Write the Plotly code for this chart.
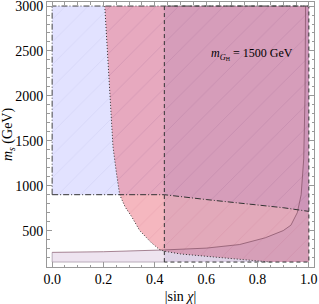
import plotly.graph_objects as go

# ---- data (x = |sin chi|, y = m_s in GeV) ----
# blue region: y above this lower boundary, x in [0,1], up to 3000
blue_low_x = [0.0, 0.437, 0.6, 0.8, 0.9, 1.0]
blue_low_y = [900, 900, 846, 789, 755, 714]
# pink region: right of this curve
pink_x = [0.205, 0.215, 0.225, 0.237, 0.25, 0.263, 0.285, 0.309, 0.341, 0.386, 0.418, 0.437, 0.5, 0.6, 0.728, 0.793, 0.85]
pink_y = [3000, 2500, 2000, 1435, 1150, 900, 760, 659, 500, 367, 289, 271, 240, 215, 178, 160, 150]
# grey region: |sin chi| >= 0.437
grey_x0 = 0.437
# lavender region: below this curve
lav_x = [0.0, 0.2, 0.437, 0.6, 0.73, 0.83, 0.9, 0.93, 0.955, 0.97, 0.98, 0.985, 0.987]
lav_y = [258, 265, 285, 305, 345, 420, 500, 560, 700, 900, 1300, 2000, 3000]
y_min, y_max = 150, 3000
x_min, x_max = 0.0, 1.0

x_ticks = [0.0, 0.2, 0.4, 0.6, 0.8, 1.0]
y_ticks = [500, 1000, 1500, 2000, 2500, 3000]

fig = go.Figure()

def poly(xs, ys, fill):
    fig.add_trace(go.Scatter(x=xs, y=ys, mode="lines", fill="toself", fillcolor=fill,
                             line=dict(width=0), hoverinfo="skip", showlegend=False))

def mesh(xs, ys, color):
    fig.add_trace(go.Scatter(x=xs, y=ys, mode="lines", fill="toself", fillcolor="rgba(0,0,0,0)",
                             fillpattern=dict(shape="/", bgcolor="rgba(0,0,0,0)", fgcolor=color,
                                              fgopacity=0.11, size=16, solidity=0.06),
                             line=dict(width=0), hoverinfo="skip", showlegend=False))

def edge(xs, ys, color, dash, width=1.0):
    fig.add_trace(go.Scatter(x=xs, y=ys, mode="lines",
                             line=dict(color=color, width=width, dash=dash),
                             hoverinfo="skip", showlegend=False))

# blue
bx = [x_min, x_min, x_max] + blue_low_x[::-1]
by = [blue_low_y[0], y_max, y_max] + blue_low_y[::-1]
poly(bx, by, "rgba(175,175,255,0.36)")
# pink
px = pink_x + [x_max, x_max]
py = pink_y + [y_min, y_max]
poly(px, py, "rgba(236,112,128,0.50)")
# grey
poly([grey_x0, x_max, x_max, grey_x0], [y_min, y_min, y_max, y_max], "rgba(90,70,160,0.12)")
# lavender
lx = [x_min] + lav_x + [x_max, x_max]
ly = [y_min] + lav_y + [y_max, y_min]
poly(lx, ly, "rgba(170,120,180,0.20)")
# faint mesh lines
mesh(bx, by, "#8080c0")
mesh(px, py, "#b04060")

# boundaries
edge(lav_x, lav_y, "rgba(120,70,90,0.8)", "solid", 0.8)
edge([lav_x[0], x_min, grey_x0], [lav_y[0], y_min, y_min], "rgba(120,100,120,0.6)", "solid", 0.8)
edge([grey_x0, grey_x0, x_max, x_max, grey_x0], [y_min, y_max, y_max, y_min, y_min], "#333", "4px,3px", 1.0)
edge(pink_x, pink_y, "#333", "1px,2px", 1.0)
edge([blue_low_x[0], x_min, x_max], [blue_low_y[0], y_max, y_max], "#444", "6px,2px,1px,2px", 1.0)
edge(blue_low_x, blue_low_y, "#333", "6px,2px,1px,2px", 1.0)

fig.add_annotation(x=0.778, y=2462, xref="x", yref="y", showarrow=False,
                   text="<i>m</i><sub><i>G</i><sub>H</sub></sub> = 1500 GeV",
                   font=dict(family="Liberation Serif", size=12, color="black"))

axis_common = dict(showgrid=False, zeroline=False, showline=True, linecolor="#999", linewidth=1,
                   mirror="ticks", ticks="inside", ticklen=5, tickcolor="#999",
                   automargin=False, ticklabeloverflow="allow",
                   tickfont=dict(family="Liberation Serif", size=14, color="black"))
fig.update_xaxes(range=[-0.02, 1.02], tickvals=x_ticks, ticktext=[f"{v:.1f}" for v in x_ticks],
                 minor=dict(ticks="inside", ticklen=2.5, dtick=0.05, tickcolor="#999"),
                 ticklabelstandoff=-1,
                 title=dict(text="|sin <i>χ</i>|", font=dict(family="Liberation Serif", size=14, color="black"), standoff=5),
                 **axis_common)
fig.update_yaxes(range=[95, 3045], tickvals=y_ticks,
                 minor=dict(ticks="inside", ticklen=2.5, dtick=100, tickcolor="#999"),
                 title=dict(text="<i>m<sub>s</sub></i> (GeV)", font=dict(family="Liberation Serif", size=14, color="black"), standoff=0),
                 **axis_common)
fig.update_layout(width=319, height=304, margin=dict(l=47, r=5, t=2, b=37),
                  plot_bgcolor="white", paper_bgcolor="white")
fig.write_html("out.html", config={"displayModeBar": False},
               post_script="document.body.style.margin='0';document.body.style.padding='0';")
